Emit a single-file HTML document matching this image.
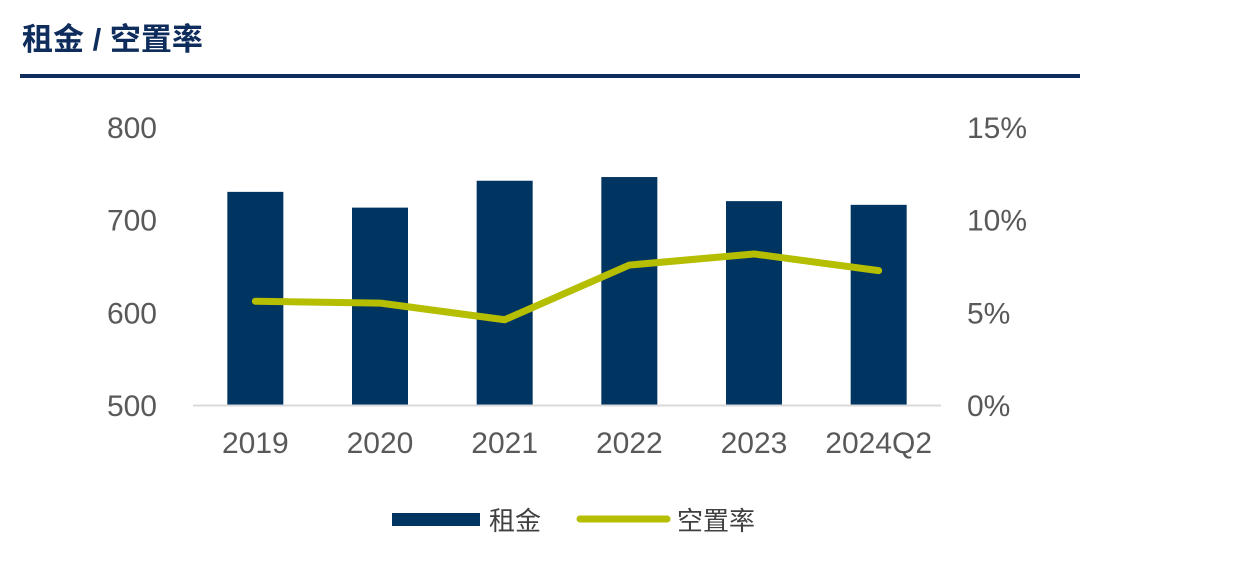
<!DOCTYPE html>
<html><head><meta charset="utf-8"><style>
body{margin:0;background:#fff;width:1250px;height:576px;overflow:hidden;font-family:"Liberation Sans","Noto Sans CJK SC",sans-serif;}
</style></head><body>
<svg width="1250" height="576" xmlns="http://www.w3.org/2000/svg">
<text x="22" y="50" font-size="31" font-weight="bold" fill="#0e2d5c" font-family="Liberation Sans, Noto Sans CJK SC, sans-serif">租金 / 空置率</text>
<rect x="20" y="74" width="1060" height="4" fill="#0e2d5c"/>
<g id="plot"></g>
</svg>
<script>
const categories=["2019","2020","2021","2022","2023","2024Q2"];
const rent=[730,713,742,746,720,716];
const vacancy=[5.6,5.5,4.6,7.55,8.15,7.25];
const leftTicks=[500,600,700,800];
const rightTicks=[0,5,10,15];
const NS="http://www.w3.org/2000/svg";
const g=document.getElementById('plot');
const x0=193,x1=941,yb=405,yt=127;
const bw=(x1-x0)/categories.length;
const xc=i=>x0+bw*(i+0.5);
const yL=v=>yb-(v-500)/300*(yb-yt);
const yR=v=>yb-v/15*(yb-yt);
function mk(t,a){const e=document.createElementNS(NS,t);for(const k in a)e.setAttribute(k,a[k]);g.appendChild(e);return e;}
leftTicks.forEach(v=>{const t=mk('text',{x:157,y:yL(v)+11,'text-anchor':'end','font-size':30,fill:'#595959'});t.textContent=v;

});
rightTicks.forEach(v=>{const t=mk('text',{x:967,y:yR(v)+11,'font-size':30,fill:'#595959'});t.textContent=v+'%';

});
rent.forEach((v,i)=>{const r=mk('rect',{x:xc(i)-28,y:yL(v),width:56,height:yb-yL(v),fill:'#003461'});

});
const bl=mk('line',{x1:x0,x2:x1,y1:yb+0.5,y2:yb+0.5,stroke:'#d9d9d9','stroke-width':2});


categories.forEach((c,i)=>{const t=mk('text',{x:xc(i),y:453,'text-anchor':'middle','font-size':30,fill:'#595959'});t.textContent=c;

});
const pl=mk('polyline',{points:vacancy.map((v,i)=>xc(i)+','+yR(v)).join(' '),fill:'none',stroke:'#b5be00','stroke-width':7,'stroke-linejoin':'round','stroke-linecap':'round'});


const l1=mk('rect',{x:392,y:513,width:88,height:13,fill:'#003461'});


const t1=mk('text',{x:489,y:530,'font-size':26,fill:'#404040'});t1.textContent='租金';


const l2=mk('line',{x1:580,x2:667,y1:519,y2:519,stroke:'#b5be00','stroke-width':7,'stroke-linecap':'round'});


const t2=mk('text',{x:677,y:530,'font-size':26,fill:'#404040'});t2.textContent='空置率';


</script>
</body></html>
